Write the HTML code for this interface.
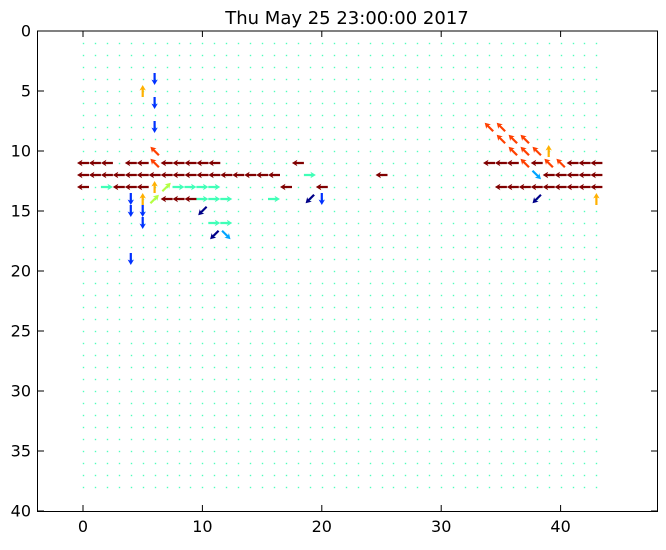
<!DOCTYPE html>
<html><head><meta charset="utf-8"><style>
body{margin:0;background:#fff;}
svg text{font-family:"DejaVu Sans","Liberation Sans",sans-serif;}
</style></head><body>
<svg id="chart" width="666" height="545" xmlns="http://www.w3.org/2000/svg">
<rect width="666" height="545" fill="#fff"/>
<text x="347" y="24" font-size="18" text-anchor="middle">Thu May 25 23:00:00 2017</text>
<g id="dots"></g>
<g id="arrows"></g>
<g id="axes"></g>
</svg>
<script>
// arrow grid positions, direction (deg, 0=right, 90=up), color category
const arrowX=[0,1,2,4,5,6,7,8,9,10,11,18,34,35,36,37,38,39,40,41,42,43,
 0,1,2,3,4,5,6,7,8,9,10,11,12,13,14,15,16,19,25,38,39,40,41,42,43,
 0,2,3,4,5,6,7,8,9,10,11,17,20,35,36,37,38,39,40,41,42,43,
 4,5,6,7,8,9,10,11,12,16,19,20,38,43,
 4,5,10,5,11,12,11,12,4,6,5,6,6,6,36,37,38,39,35,36,37,34,35];
const arrowY=[11,11,11,11,11,11,11,11,11,11,11,11,11,11,11,11,11,11,11,11,11,11,
 12,12,12,12,12,12,12,12,12,12,12,12,12,12,12,12,12,12,12,12,12,12,12,12,12,
 13,13,13,13,13,13,13,13,13,13,13,13,13,13,13,13,13,13,13,13,13,13,
 14,14,14,14,14,14,14,14,14,14,14,14,14,14,
 15,15,15,16,16,16,17,17,19,4,5,6,8,10,10,10,10,10,9,9,9,8,8];
const arrowDir=[180,180,180,180,180,135,180,180,180,180,180,180,180,180,180,135,180,135,135,180,180,180,
 180,180,180,180,180,180,180,180,180,180,180,180,180,180,180,180,180,0,180,-45,180,180,180,180,180,
 180,0,180,180,180,90,45,0,0,0,0,180,180,180,180,180,180,180,180,180,180,180,
 -90,90,45,180,180,180,0,0,0,0,-135,-90,-135,90,
 -90,-90,-135,-90,0,0,-135,-45,-90,-90,90,-90,-90,135,135,135,135,90,135,135,135,135,135];
const arrowC=[0,0,0,0,0,1,0,0,0,0,0,0,0,0,0,1,0,1,1,0,0,0,
 0,0,0,0,0,0,0,0,0,0,0,0,0,0,0,0,0,4,0,7,0,0,0,0,0,
 0,4,0,0,0,2,3,4,4,4,4,0,0,0,0,0,0,0,0,0,0,0,
 5,2,3,0,0,0,4,4,4,4,6,5,6,2,
 5,5,6,5,4,4,6,7,5,5,2,5,5,1,1,1,1,2,1,1,1,1,1];
const palette=["#800000","#ff4000","#ffb000","#b4ff43","#40ffb7","#0030ff","#000088","#00a4ff"];
const X0=83,SX=11.94,Y0=31,SY=12;
const sx=x=>X0+x*SX, sy=y=>Y0+y*SY;
const NS="http://www.w3.org/2000/svg";
const dots=document.getElementById('dots');
for(let gx=0;gx<=43;gx++)for(let gy=1;gy<=38;gy++){
 const d=document.createElementNS(NS,'rect');
 d.setAttribute('x',Math.round(sx(gx))-0.2);d.setAttribute('y',Math.round(sy(gy))-0.2);d.setAttribute('width',1.4);d.setAttribute('height',1.4);d.setAttribute('fill','#50ffbc');
 
 
 dots.appendChild(d);}
const ag=document.getElementById('arrows');
for(let i=0;i<arrowX.length;i++){
 const cx=sx(arrowX[i]),cy=sy(arrowY[i]),a=arrowDir[i]*Math.PI/180;
 const L=12,ux=Math.cos(a),uy=-Math.sin(a),nx=-uy,ny=ux;
 const pts=[[-L/2,1.1],[L/2-4.5,1.1],[L/2-5.5,3.2],[L/2,0],[L/2-5.5,-3.2],[L/2-4.5,-1.1],[-L/2,-1.1]];
 const p=document.createElementNS(NS,'polygon');
 p.setAttribute('points',pts.map(([t,s])=>(cx+t*ux+s*nx).toFixed(1)+','+(cy+t*uy+s*ny).toFixed(1)).join(' '));
 p.setAttribute('fill',palette[arrowC[i]]);
 
 
 ag.appendChild(p);}
const ax=document.getElementById('axes');
const xTicks=[0,10,20,30,40],yTicks=[0,5,10,15,20,25,30,35,40];
let h='<rect x="37.5" y="31" width="620" height="480.5" fill="none" stroke="#000" stroke-width="1"/>';
xTicks.forEach(t=>{const x=sx(t);h+=`<line x1="${x}" y1="511.5" x2="${x}" y2="505" stroke="#000"/><line x1="${x}" y1="31" x2="${x}" y2="37" stroke="#000"/><text x="${x}" y="532" font-size="16" text-anchor="middle">${t}</text>`;});
yTicks.forEach(t=>{const y=sy(t);h+=`<line x1="37.5" y1="${y}" x2="44" y2="${y}" stroke="#000"/><line x1="651" y1="${y}" x2="657.5" y2="${y}" stroke="#000"/><text x="31" y="${y+5.5}" font-size="16" text-anchor="end">${t}</text>`;});
ax.innerHTML=h;
</script>
</body></html>
